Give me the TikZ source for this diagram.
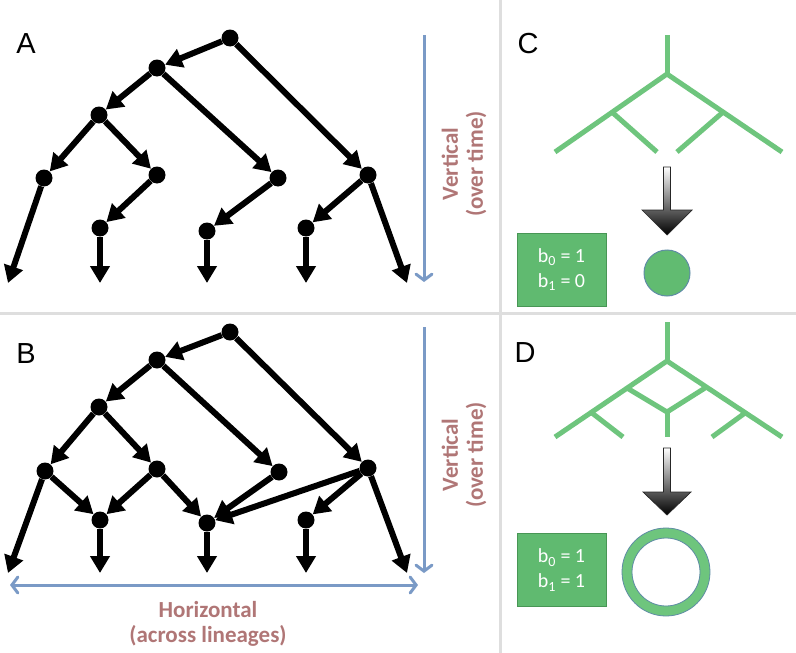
\documentclass[tikz,border=0pt]{standalone}
\usepackage{fontspec}
\setmainfont{Carlito}
\newfontfamily\letterfont{Liberation Sans}
\usetikzlibrary{arrows.meta}
\definecolor{labrose}{RGB}{176,118,118}
\definecolor{arrblue}{RGB}{122,154,198}
\definecolor{treegreen}{RGB}{110,197,125}
\definecolor{boxgreen}{RGB}{96,186,112}
\definecolor{boxedge}{RGB}{72,150,85}
\definecolor{ringedge}{RGB}{95,140,165}
\definecolor{sepgray}{RGB}{222,222,222}
\tikzset{
  dot/.style={circle, fill=black, inner sep=0pt, minimum size=17pt},
  edge/.style={line width=6pt, -{Triangle[length=17pt,width=19pt]}},
  bluearrow/.style={arrblue, line width=3pt, -{Straight Barb[length=6pt,width=16pt,line cap=round]}},
  gtree/.style={treegreen, line width=5pt, line join=round},
  lbl/.style={labrose, font=\bfseries\fontsize{23}{25}\selectfont, align=center, inner sep=0pt},
  panel/.style={font=\letterfont\fontsize{29}{32}\selectfont, inner sep=0pt},
  gbox/.style={draw=boxedge, line width=1pt, fill=boxgreen, text=white, align=center,
    minimum width=89pt, minimum height=73pt, inner sep=0pt, font=\fontsize{20}{25}\selectfont},
  blockarrow/.style={top color=white, bottom color=black, draw=black!85, line width=0.7pt}
}
\begin{document}
\begin{tikzpicture}[x=1pt,y=-1pt]
\useasboundingbox (0,0) rectangle (796,653);
\fill[white] (0,0) rectangle (796,653);
% separators
\draw[sepgray, line width=3pt] (500,0) -- (500,653);
\draw[sepgray, line width=3pt] (0,313) -- (796,313);

% panel letters
\node[panel] (pA) at (26,44) {A};
\node[panel] (pB) at (26,354) {B};
\node[panel] (pC) at (528,44) {C};
\node[panel] (pD) at (525,353) {D};

% ---------- Panel A ----------
\node[dot] (a0) at (230,38) {};
\node[dot] (a1) at (157,68) {};
\node[dot] (a2) at (99,115) {};
\node[dot] (a3) at (44,178) {};
\node[dot] (a4) at (157,175) {};
\node[dot] (a5) at (278,178) {};
\node[dot] (a6) at (368,175) {};
\node[dot] (am1) at (100,228) {};
\node[dot] (am2) at (207,231) {};
\node[dot] (am3) at (306,228) {};
\coordinate (al1) at (8,283);
\coordinate (al2) at (100,283);
\coordinate (al3) at (207,283);
\coordinate (al4) at (306,283);
\coordinate (al5) at (407,283);
\draw[edge] (a0) -- (a1);
\draw[edge] (a0) -- (a6);
\draw[edge] (a1) -- (a2);
\draw[edge] (a1) -- (a5);
\draw[edge] (a2) -- (a3);
\draw[edge] (a2) -- (a4);
\draw[edge] (a3) -- (al1);
\draw[edge] (a4) -- (am1);
\draw[edge] (am1) -- (al2);
\draw[edge] (a5) -- (am2);
\draw[edge] (am2) -- (al3);
\draw[edge] (a6) -- (am3);
\draw[edge] (am3) -- (al4);
\draw[edge] (a6) -- (al5);
\coordinate (vAs) at (424,35);
\coordinate (vAe) at (424,282);
\draw[bluearrow] (vAs) -- (vAe);
\node[lbl, rotate=90] (vA) at (464,164) {Vertical\\(over time)};

% ---------- Panel B ----------
\node[dot] (b0) at (230,332) {};
\node[dot] (b1) at (157,360) {};
\node[dot] (b2) at (99,407) {};
\node[dot] (b3) at (45,471) {};
\node[dot] (b4) at (157,469) {};
\node[dot] (b5) at (279,472) {};
\node[dot] (b6) at (368,468) {};
\node[dot] (bm1) at (100,520) {};
\node[dot] (bm2) at (207,523) {};
\node[dot] (bm3) at (306,520) {};
\coordinate (bl1) at (8,573);
\coordinate (bl2) at (100,573);
\coordinate (bl3) at (207,573);
\coordinate (bl4) at (306,573);
\coordinate (bl5) at (407,573);
\draw[edge] (b0) -- (b1);
\draw[edge] (b0) -- (b6);
\draw[edge] (b1) -- (b2);
\draw[edge] (b1) -- (b5);
\draw[edge] (b2) -- (b3);
\draw[edge] (b2) -- (b4);
\draw[edge] (b3) -- (bl1);
\draw[edge] (b3) -- (bm1);
\draw[edge] (b4) -- (bm1);
\draw[edge] (b4) -- (bm2);
\draw[edge] (b5) -- (bm2);
\draw[edge] (b6) -- (bm2);
\draw[edge] (b6) -- (bm3);
\draw[edge] (b6) -- (bl5);
\draw[edge] (bm1) -- (bl2);
\draw[edge] (bm2) -- (bl3);
\draw[edge] (bm3) -- (bl4);
\coordinate (vBs) at (424,327);
\coordinate (vBe) at (424,573);
\draw[bluearrow] (vBs) -- (vBe);
\node[lbl, rotate=90] (vB) at (464,455) {Vertical\\(over time)};
\coordinate (hs) at (10,585);
\coordinate (he) at (418,585);
\draw[bluearrow, {Straight Barb[length=6pt,width=16pt,line cap=round]}-{Straight Barb[length=6pt,width=16pt,line cap=round]}] (hs) -- (he);
\node[lbl] (hl) at (208,623.5) {Horizontal\\(across lineages)};

% ---------- Panel C ----------
\draw[gtree] (667,35) -- (667,74);
\draw[gtree] (555,152) -- (667,74) -- (782,152);
\draw[gtree] (613,113) -- (657,152);
\draw[gtree] (722,113) -- (677,152);
\shade[blockarrow] (663.5,167) -- (670.5,167) -- (670.5,210) -- (692,210) -- (667,235) -- (642,210) -- (663.5,210) -- cycle;
\node[gbox] (cbox) at (561.5,269.5) {b\textsubscript{0} = 1\\b\textsubscript{1} = 0};
\node[circle, fill=boxgreen!90!treegreen, draw=ringedge, line width=1pt, minimum size=46pt, inner sep=0pt] (ccirc) at (667,273) {};

% ---------- Panel D ----------
\draw[gtree] (667,322) -- (667,361);
\draw[gtree] (555,437) -- (667,361) -- (782,437);
\draw[gtree] (627,388) -- (667,412) -- (705,388);
\draw[gtree] (667,412) -- (667,437);
\draw[gtree] (592,413) -- (623,437);
\draw[gtree] (745,413) -- (712,437);
\shade[blockarrow] (663.5,448) -- (670.5,448) -- (670.5,492) -- (691,492) -- (667,515) -- (643,492) -- (663.5,492) -- cycle;
\node[gbox] (dbox) at (561.5,570) {b\textsubscript{0} = 1\\b\textsubscript{1} = 1};
\draw[treegreen, line width=10pt] (666,572) circle (39);
\draw[ringedge, line width=0.8pt] (666,572) circle (44);
\draw[ringedge, line width=0.8pt] (666,572) circle (34);
\end{tikzpicture}
\end{document}
